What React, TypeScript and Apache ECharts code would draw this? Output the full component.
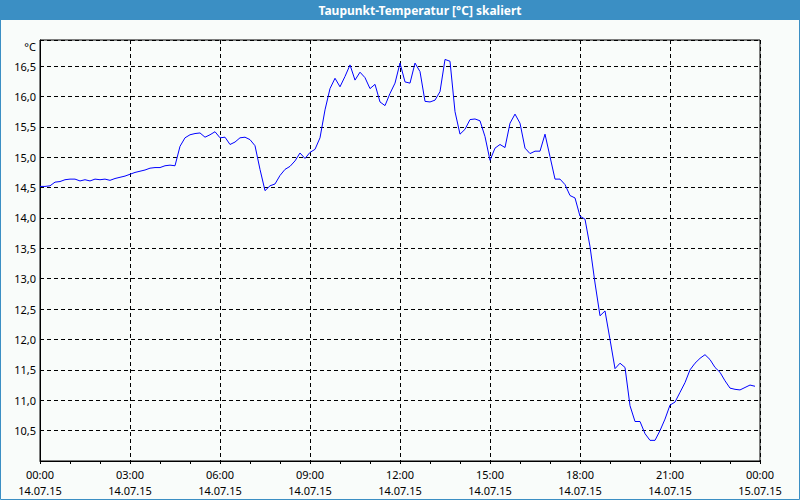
import React, { useEffect, useRef } from "react";
import * as echarts from "echarts";

// Dew point temperature, one reading every 10 minutes, starting 14.07.15 00:00
const stepMinutes = 10;
const dewPoint: number[] = [
  14.52, 14.52, 14.53, 14.59, 14.6, 14.63, 14.64, 14.64, 14.61, 14.63,
  14.61, 14.64, 14.63, 14.64, 14.62, 14.65, 14.67, 14.69, 14.72, 14.75,
  14.77, 14.79, 14.82, 14.83, 14.83, 14.86, 14.87, 14.86, 15.18, 15.32,
  15.37, 15.39, 15.4, 15.33, 15.37, 15.42, 15.32, 15.33, 15.21, 15.25,
  15.32, 15.33, 15.29, 15.19, 14.8, 14.45, 14.53, 14.56, 14.7, 14.8,
  14.85, 14.94, 15.07, 14.98, 15.08, 15.13, 15.32, 15.78, 16.13, 16.3,
  16.16, 16.33, 16.52, 16.27, 16.4, 16.31, 16.13, 16.2, 15.91, 15.85,
  16.05, 16.22, 16.55, 16.24, 16.22, 16.55, 16.41, 15.92, 15.91, 15.94,
  16.08, 16.61, 16.58, 15.75, 15.38, 15.46, 15.62, 15.63, 15.6, 15.34,
  14.95, 15.15, 15.21, 15.16, 15.56, 15.71, 15.56, 15.15, 15.06, 15.1,
  15.1, 15.38, 15.01, 14.64, 14.64, 14.55, 14.37, 14.33, 14.03, 13.98,
  13.53, 12.93, 12.39, 12.47, 12.0, 11.52, 11.61, 11.54, 10.91, 10.65,
  10.65, 10.45, 10.34, 10.34, 10.5, 10.69, 10.92, 10.97, 11.13, 11.29,
  11.5, 11.61, 11.69, 11.75, 11.67, 11.54, 11.46, 11.32, 11.2, 11.18,
  11.17, 11.21, 11.25, 11.23,
];

const timeLabels = ["00:00", "03:00", "06:00", "09:00", "12:00", "15:00", "18:00", "21:00", "00:00"];
const dateLabels = ["14.07.15", "14.07.15", "14.07.15", "14.07.15", "14.07.15", "14.07.15", "14.07.15", "14.07.15", "15.07.15"];

const titleText = "Taupunkt-Temperatur [°C] skaliert";
const unitText = "°C";

export default function App() {
  const ref = useRef<HTMLDivElement>(null);
  useEffect(() => {
    if (!ref.current) return;
    const chart = echarts.init(ref.current, null, { renderer: "svg" });
    const font = "'Noto Sans', Tahoma, sans-serif";
    chart.setOption({
      animation: false,
      backgroundColor: "#f9fcfa",
      textStyle: { fontFamily: font },
      graphic: [
        {
          type: "rect",
          shape: { x: 0.5, y: 0.5, width: 799, height: 499 },
          style: { fill: "none", stroke: "#3b8fc4", lineWidth: 1 },
          z: 10,
        },
        {
          type: "rect",
          shape: { x: 0, y: 0, width: 800, height: 20 },
          style: { fill: "#3b8fc4" },
          z: 10,
        },
        {
          type: "text",
          x: 420,
          y: 10,
          style: {
            text: titleText,
            fill: "#ffffff",
            font: `bold 12px ${font}`,
            align: "center",
            verticalAlign: "middle",
          },
          z: 11,
        },
        {
          type: "text",
          x: 36,
          y: 46,
          style: {
            text: unitText,
            fill: "#000000",
            font: `11px ${font}`,
            align: "right",
            verticalAlign: "middle",
          },
        },
      ],
      grid: {
        left: 40,
        right: 40,
        top: 40,
        bottom: 39,
        show: true,
        borderColor: "#000",
        borderWidth: 1,
        backgroundColor: "transparent",
      },
      xAxis: {
        type: "value",
        min: 0,
        max: 24,
        interval: 3,
        axisLine: { show: true, lineStyle: { color: "#000", width: 1 } },
        axisTick: { show: true, length: 3, lineStyle: { color: "#000" } },
        minorTick: { show: true, splitNumber: 3, length: 3, lineStyle: { color: "#000" } },
        splitLine: { show: true, lineStyle: { color: "#000", type: [4, 3], width: 1 } },
        axisLabel: {
          color: "#000",
          fontSize: 11,
          lineHeight: 16,
          margin: 5,
          formatter: (v: number) => {
            const idx = Math.round(v / 3);
            return `${timeLabels[idx]}\n${dateLabels[idx]}`;
          },
        },
      },
      yAxis: {
        type: "value",
        min: 10,
        max: 16.93,
        interval: 0.5,
        axisLine: { show: true, lineStyle: { color: "#000", width: 1 } },
        axisTick: { show: false },
        splitLine: { show: true, lineStyle: { color: "#000", type: [4, 3], width: 1 } },
        axisLabel: {
          color: "#000",
          fontSize: 11,
          margin: 4,
          showMinLabel: false,
          showMaxLabel: false,
          formatter: (v: number) => v.toFixed(1).replace(".", ","),
        },
      },
      series: [
        {
          type: "line",
          data: dewPoint.map((v, i) => [(i * stepMinutes) / 60, v]),
          showSymbol: false,
          lineStyle: { color: "#0000ff", width: 1 },
          itemStyle: { color: "#0000ff" },
          clip: true,
        },
      ],
    });
    return () => chart.dispose();
  }, []);
  return (
    <div
      ref={ref}
      style={{ position: "fixed", left: 0, top: 0, width: 800, height: 500 }}
    />
  );
}
